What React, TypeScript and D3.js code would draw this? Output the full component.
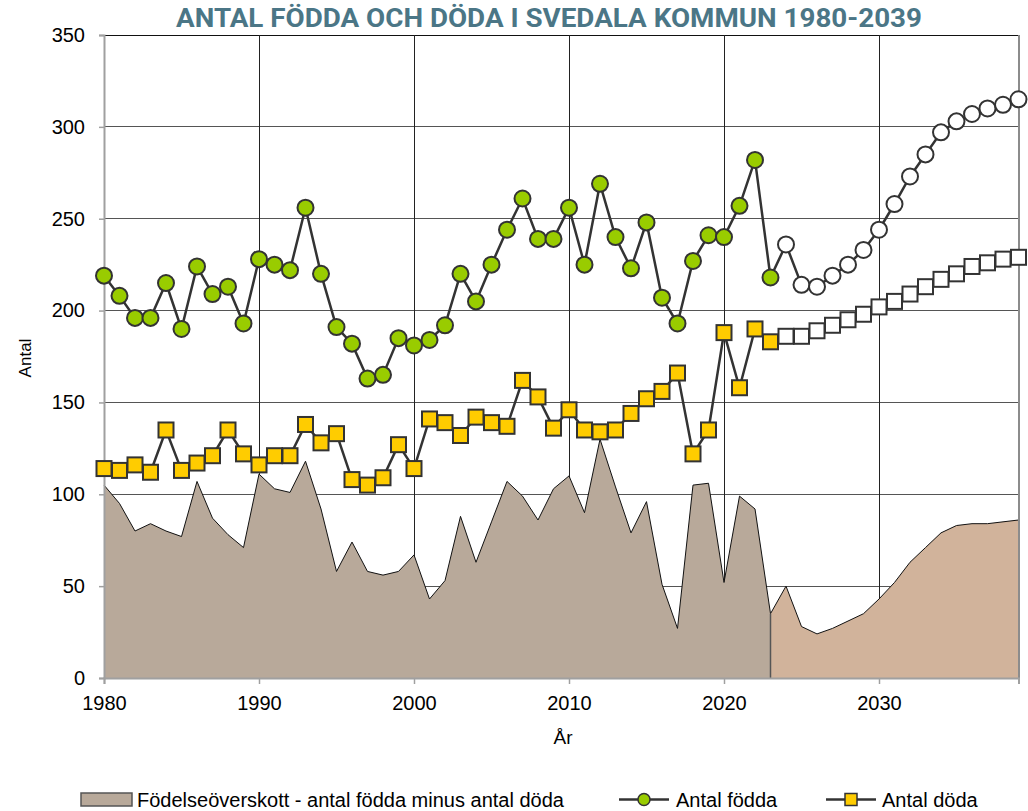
import React, { useEffect, useRef } from 'react';
import * as d3 from 'd3';

const years = d3.range(1980, 2040);
const lastActual = 2023;

// Antal födda 1980-2039 (2024- prognos)
const births = [
  219, 208, 196, 196, 215, 190, 224, 209, 213, 193,
  228, 225, 222, 256, 220, 191, 182, 163, 165, 185,
  181, 184, 192, 220, 205, 225, 244, 261, 239, 239,
  256, 225, 269, 240, 223, 248, 207, 193, 227, 241,
  240, 257, 282, 218, 236, 214, 213, 219, 225, 233,
  244, 258, 273, 285, 297, 303, 307, 310, 312, 315,
];

// Antal döda 1980-2039 (2024- prognos)
const deaths = [
  114, 113, 116, 112, 135, 113, 117, 121, 135, 122,
  116, 121, 121, 138, 128, 133, 108, 105, 109, 127,
  114, 141, 139, 132, 142, 139, 137, 162, 153, 136,
  146, 135, 134, 135, 144, 152, 156, 166, 122, 135,
  188, 158, 190, 183, 186, 186, 189, 192, 195, 198,
  202, 205, 209, 213, 217, 220, 224, 226, 228, 229,
];

// Födelseöverskott 1980-2039
const surplus = [
  105, 95, 80, 84, 80, 77, 107, 87, 78, 71,
  111, 103, 101, 118, 92, 58, 74, 58, 56, 58,
  67, 43, 53, 88, 63, 85, 107, 99, 86, 103,
  110, 90, 130, 104, 79, 96, 51, 27, 105, 106,
  52, 99, 92, 35, 50, 28, 24, 27, 31, 35,
  43, 52, 63, 71, 79, 83, 84, 84, 85, 86,
];

const yTicks = [0, 50, 100, 150, 200, 250, 300, 350];
const xTicks = [1980, 1990, 2000, 2010, 2020, 2030];

const FONT = '"Liberation Sans", Arial, sans-serif';

const App = () => {
  const svgRef = useRef<SVGSVGElement>(null);

  useEffect(() => {
    const svg = d3.select(svgRef.current);
    svg.selectAll('*').remove();

    const left = 104, right = 1018.5, top = 35, bottom = 678;

    const x = d3.scaleLinear().domain([1980, 2039]).range([left, right]);
    const y = d3.scaleLinear().domain([0, 350]).range([bottom, top]);

    const rows = years.map((yr, i) => ({ yr, b: births[i], d: deaths[i], s: surplus[i] }));
    const hist = rows.filter(r => r.yr <= lastActual);
    const prog = rows.filter(r => r.yr >= lastActual);

    // gridlines
    svg.append('g')
      .selectAll('line')
      .data(yTicks.filter(t => t > 0))
      .join('line')
        .attr('x1', left).attr('x2', right)
        .attr('y1', d => y(d)).attr('y2', d => y(d))
        .attr('stroke', d => d === 350 ? '#111' : '#555')
        .attr('stroke-width', 1)
        .attr('shape-rendering', 'crispEdges');

    svg.append('g')
      .selectAll('line')
      .data(xTicks.filter(t => t > 1980))
      .join('line')
        .attr('x1', d => x(d)).attr('x2', d => x(d))
        .attr('y1', top).attr('y2', bottom)
        .attr('stroke', '#222')
        .attr('stroke-width', 1)
        .attr('shape-rendering', 'crispEdges');

    // areas
    const area = d3.area<any>()
      .x(d => x(d.yr))
      .y0(y(0))
      .y1(d => y(d.s));
    const topLine = d3.line<any>().x(d => x(d.yr)).y(d => y(d.s));

    svg.append('path').datum(hist).attr('d', area).attr('fill', '#b8a99a');
    svg.append('path').datum(hist).attr('d', topLine).attr('fill', 'none').attr('stroke', '#111').attr('stroke-width', 1);
    svg.append('path').datum(prog).attr('d', area).attr('fill', '#d1b39b');
    svg.append('path').datum(prog).attr('d', topLine).attr('fill', 'none').attr('stroke', '#111').attr('stroke-width', 1);
    svg.append('line')
      .attr('x1', x(lastActual)).attr('x2', x(lastActual))
      .attr('y1', y(surplus[lastActual - 1980])).attr('y2', y(0))
      .attr('stroke', '#555').attr('stroke-width', 1.5);

    // frame
    svg.append('line').attr('x1', right + 0.5).attr('x2', right + 0.5).attr('y1', top).attr('y2', bottom)
      .attr('stroke', '#8c8c8c').attr('stroke-width', 2);

    // axes
    const yAxis = svg.append('g')
      .attr('transform', `translate(${left},0)`)
      .call(d3.axisLeft(y).tickValues(yTicks).tickSize(5).tickPadding(14).tickFormat(d3.format('d')));
    yAxis.select('.domain').attr('stroke', '#a0a0a0').attr('stroke-width', 2);
    yAxis.selectAll('.tick line').attr('stroke', '#a0a0a0').attr('stroke-width', 1.5);
    yAxis.selectAll('.tick text')
      .attr('font-family', FONT).attr('font-size', 20).attr('fill', '#000');

    const xAxis = svg.append('g')
      .attr('transform', `translate(0,${bottom})`)
      .call(d3.axisBottom(x).tickValues(xTicks).tickSize(6).tickPadding(12).tickFormat(d3.format('d')));
    xAxis.select('.domain').attr('stroke', '#a0a0a0').attr('stroke-width', 2);
    xAxis.selectAll('.tick line').attr('stroke', '#a0a0a0').attr('stroke-width', 1.5);
    xAxis.selectAll('.tick text')
      .attr('font-family', FONT).attr('font-size', 20).attr('fill', '#000');

    // lines
    const bLine = d3.line<any>().x(d => x(d.yr)).y(d => y(d.b));
    const dLine = d3.line<any>().x(d => x(d.yr)).y(d => y(d.d));
    svg.append('path').datum(rows).attr('d', dLine)
      .attr('fill', 'none').attr('stroke', '#333').attr('stroke-width', 2.5);
    svg.append('path').datum(rows).attr('d', bLine)
      .attr('fill', 'none').attr('stroke', '#333').attr('stroke-width', 2.5);

    const sq = 15;
    svg.append('g')
      .selectAll('rect')
      .data(rows)
      .join('rect')
        .attr('x', d => x(d.yr) - sq / 2)
        .attr('y', d => y(d.d) - sq / 2)
        .attr('width', sq).attr('height', sq)
        .attr('fill', d => d.yr <= lastActual ? '#ffcc00' : '#fff')
        .attr('stroke', '#333').attr('stroke-width', 2);

    svg.append('g')
      .selectAll('circle')
      .data(rows)
      .join('circle')
        .attr('cx', d => x(d.yr))
        .attr('cy', d => y(d.b))
        .attr('r', 8)
        .attr('fill', d => d.yr <= lastActual ? '#99cc00' : '#fff')
        .attr('stroke', '#333').attr('stroke-width', 2);

    // titles
    svg.append('text')
      .attr('x', 549).attr('y', 27)
      .attr('text-anchor', 'middle')
      .attr('font-family', '"Liberation Sans Narrow", "Roboto", Arial, sans-serif')
      .attr('font-weight', 'bold').attr('font-size', 26)
      .attr('fill', '#4b7686')
      .attr('textLength', 746).attr('lengthAdjust', 'spacingAndGlyphs')
      .text('ANTAL FÖDDA OCH DÖDA I SVEDALA KOMMUN 1980-2039');

    svg.append('text')
      .attr('transform', 'translate(31,358) rotate(-90)')
      .attr('text-anchor', 'middle')
      .attr('font-family', FONT).attr('font-size', 17)
      .text('Antal');

    svg.append('text')
      .attr('x', 563).attr('y', 744)
      .attr('text-anchor', 'middle')
      .attr('font-family', FONT).attr('font-size', 19)
      .text('År');

    // legend
    const lg = svg.append('g').attr('font-family', FONT).attr('font-size', 20);
    lg.append('rect').attr('x', 81).attr('y', 793).attr('width', 51).attr('height', 13)
      .attr('fill', '#b8a99a').attr('stroke', '#555').attr('stroke-width', 1.5);
    lg.append('text').attr('x', 137).attr('y', 807)
      .text('Födelseöverskott - antal födda minus antal döda');

    lg.append('line').attr('x1', 619).attr('x2', 669).attr('y1', 799.5).attr('y2', 799.5)
      .attr('stroke', '#333').attr('stroke-width', 2.5);
    lg.append('circle').attr('cx', 644).attr('cy', 799.5).attr('r', 6)
      .attr('fill', '#99cc00').attr('stroke', '#333').attr('stroke-width', 1.5);
    lg.append('text').attr('x', 676).attr('y', 807).text('Antal födda');

    lg.append('line').attr('x1', 826).attr('x2', 876).attr('y1', 799.5).attr('y2', 799.5)
      .attr('stroke', '#333').attr('stroke-width', 2.5);
    lg.append('rect').attr('x', 845).attr('y', 793.5).attr('width', 12).attr('height', 12)
      .attr('fill', '#ffcc00').attr('stroke', '#333').attr('stroke-width', 1.5);
    lg.append('text').attr('x', 882).attr('y', 807).text('Antal döda');
  }, []);

  return (
    <svg
      ref={svgRef}
      width={1028}
      height={811}
      style={{ position: 'absolute', left: 0, top: 0, background: '#fff' }}
    />
  );
};

export default App;
